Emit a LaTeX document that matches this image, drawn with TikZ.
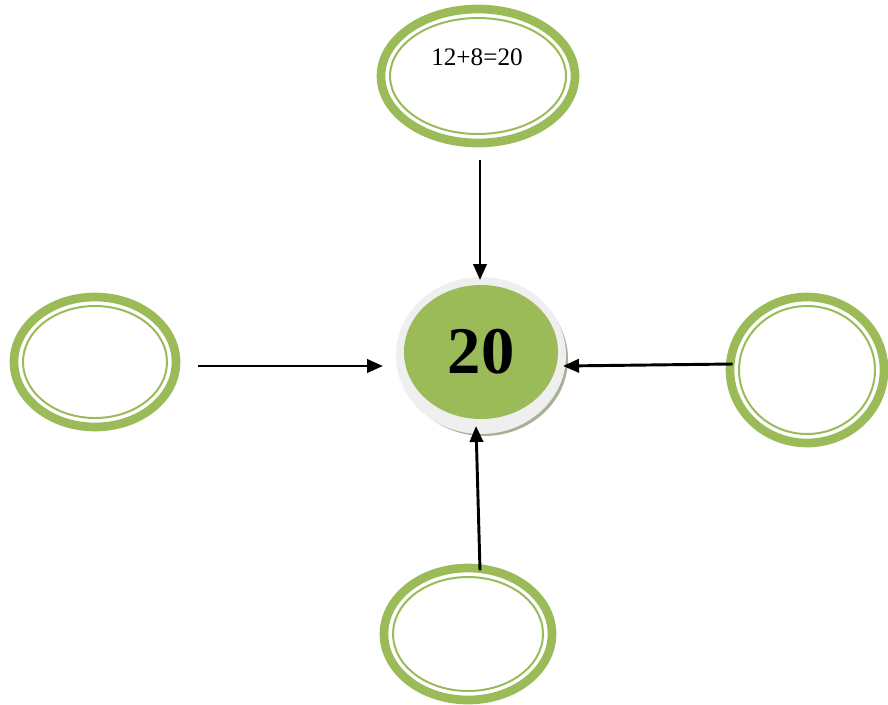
\documentclass[tikz,border=0pt]{standalone}
\usepackage{fontspec}
\setmainfont{Liberation Serif}
\usetikzlibrary{shapes.geometric,arrows.meta}

\definecolor{ringgreen}{RGB}{155,187,89}
\definecolor{hubrim}{RGB}{239,239,239}
\definecolor{hubshade}{RGB}{168,176,152}

\tikzset{every picture/.style={line width=0.75pt}}
\tikzset{
  ring/.style={ellipse, draw=ringgreen, line width=6.5pt, inner sep=0pt, outer sep=3.25pt},
  ringin/.style={draw=ringgreen, line width=1.5pt},
  hubnode/.style={ellipse, fill=ringgreen, inner sep=0pt, outer sep=0pt,
    minimum width=115.5pt, minimum height=100.5pt, font=\fontsize{50}{52}\selectfont\bfseries},
  eqtext/.style={inner sep=0.75pt, font=\fontsize{18.9}{22}\selectfont},
  arr/.style={line width=2.2pt, -{Triangle[length=12pt,width=10pt]}}
}

\begin{document}
\begin{tikzpicture}[x=0.75pt,y=0.75pt,yscale=-1,xscale=1]
\useasboundingbox (0,0) rectangle (888,704);

%Hub shadow and rim
\coordinate (hubc) at (481,352);
\fill [hubshade] (484,359) ellipse (84 and 77);
\fill [hubrim] (481,355.5) ellipse (85 and 78.5);
% Hub
\node [hubnode] (hub) at (hubc) {20};

% Rings
\node [ring, minimum width=145.5pt, minimum height=100.5pt] (top) at (478,76) {};
\draw [ringin] (top.center) ellipse (88 and 58);
\node [eqtext] (topeq) at (477,57) {12+8=20};

\node [ring, minimum width=121.5pt, minimum height=97.5pt] (left) at (95,362) {};
\draw [ringin] (left.center) ellipse (72 and 56);

\node [ring, minimum width=115.5pt, minimum height=109.5pt] (right) at (807,370) {};
\draw [ringin] (right.center) ellipse (68 and 64);

\node [ring, minimum width=126pt, minimum height=99pt] (bottom) at (468,634) {};
\draw [ringin] (bottom.center) ellipse (75 and 57);

% Connectors
\draw [arr] ([xshift=1.5pt,yshift=9.75pt]top.south) -- ([xshift=-0.75pt,yshift=-3.75pt]hub.north);
\draw [arr] ([xshift=13.5pt,yshift=3pt]left.east) -- ([xshift=-15.75pt,yshift=10.5pt]hub.west);
\draw [arr] ([xshift=5.25pt,yshift=-4.5pt]right.west) -- ([xshift=3.75pt,yshift=10.5pt]hub.east);
\draw [arr] ([xshift=9pt,yshift=5pt]bottom.north) -- ([xshift=-3.75pt,yshift=5.25pt]hub.south);

\end{tikzpicture}
\end{document}
